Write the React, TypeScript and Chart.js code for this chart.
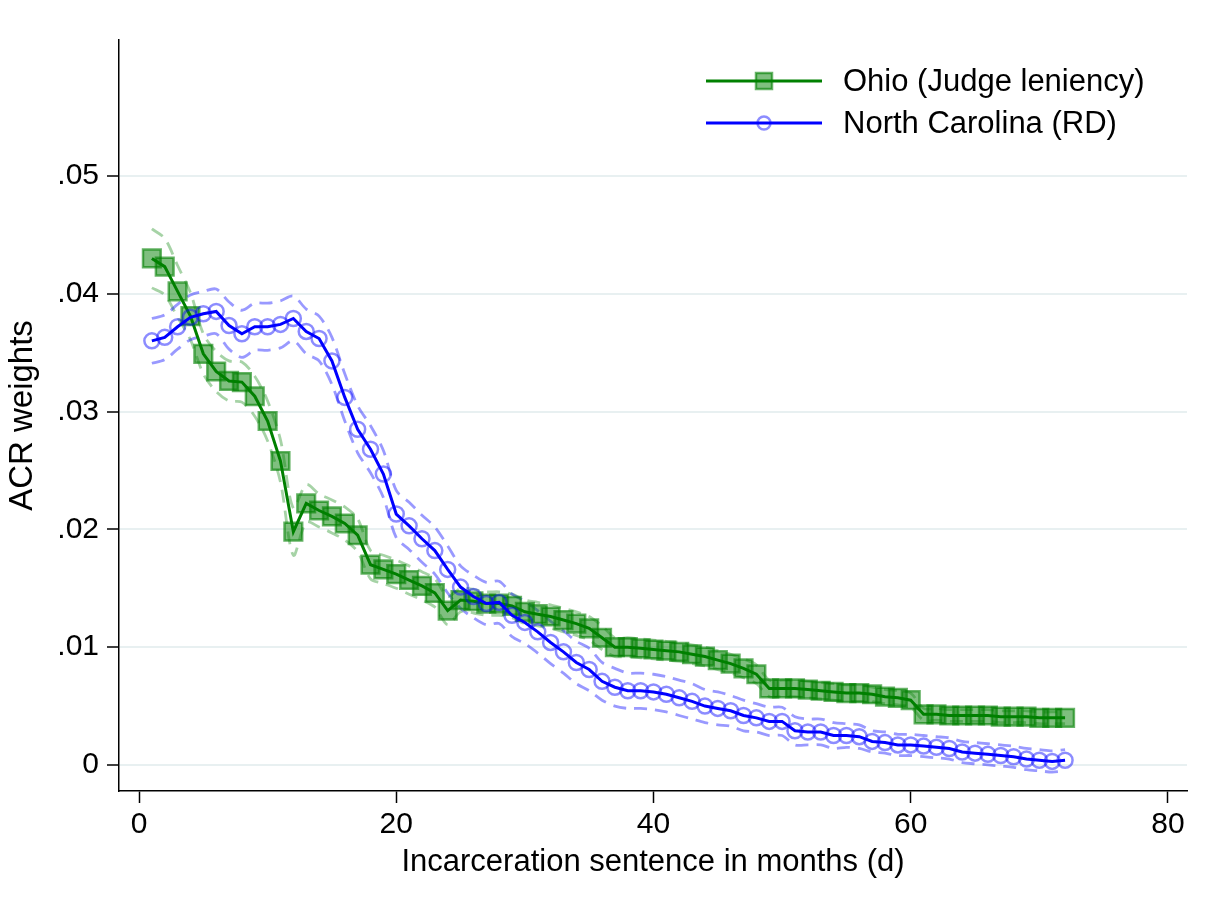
import React, { useEffect, useRef } from "react";
import { Chart, registerables } from "chart.js";

Chart.register(...registerables);

const months: number[] = Array.from({ length: 72 }, (_, i) => i + 1);

const ohio: number[] = [
  0.0430, 0.0423, 0.0402, 0.0381, 0.0349, 0.0334, 0.0326, 0.0325, 0.0313, 0.0292,
  0.0258, 0.0198, 0.0222, 0.0216, 0.0211, 0.0205, 0.0195, 0.0170, 0.0166, 0.0162,
  0.0157, 0.0152, 0.0146, 0.0131, 0.0140, 0.0139, 0.0137, 0.0137, 0.0135, 0.0130,
  0.0128, 0.0126, 0.0123, 0.0120, 0.0116, 0.0108, 0.0100, 0.0100, 0.0099, 0.0098,
  0.0097, 0.0096, 0.0094, 0.0092, 0.0089, 0.0086, 0.0082, 0.0077, 0.0065, 0.0065,
  0.0065, 0.0064, 0.0063, 0.0062, 0.0061, 0.0061, 0.0060, 0.0058, 0.0057, 0.0055,
  0.0043, 0.0043, 0.0042, 0.0042, 0.0042, 0.0042, 0.0041, 0.0041, 0.0041, 0.0040,
  0.0040, 0.0040,
];

const ohioCI: number[] = [
  0.0025, 0.0024, 0.0022, 0.0020, 0.0017, 0.0017, 0.0017, 0.0017, 0.0017, 0.0017,
  0.0018, 0.0020, 0.0016, 0.0014, 0.0014, 0.0014, 0.0014, 0.0012, 0.0012, 0.0012,
  0.0012, 0.0012, 0.0012, 0.0012, 0.0010, 0.0010, 0.0010, 0.0010, 0.0010, 0.0010,
  0.0010, 0.0010, 0.0010, 0.0010, 0.0010, 0.0010, 0.0008, 0.0008, 0.0008, 0.0008,
  0.0008, 0.0008, 0.0008, 0.0008, 0.0008, 0.0008, 0.0008, 0.0008, 0.0007, 0.0007,
  0.0007, 0.0007, 0.0007, 0.0007, 0.0007, 0.0007, 0.0006, 0.0006, 0.0006, 0.0006,
  0.0005, 0.0005, 0.0005, 0.0005, 0.0005, 0.0005, 0.0005, 0.0005, 0.0005, 0.0005,
  0.0005, 0.0005,
];

const northCarolina: number[] = [
  0.0360, 0.0363, 0.0372, 0.0380, 0.0383, 0.0385, 0.0373, 0.0366, 0.0372, 0.0372,
  0.0374, 0.0379, 0.0368, 0.0362, 0.0343, 0.0312, 0.0285, 0.0268, 0.0247, 0.0213,
  0.0203, 0.0192, 0.0182, 0.0166, 0.0151, 0.0143, 0.0137, 0.0138, 0.0127, 0.0121,
  0.0113, 0.0104, 0.0096, 0.0087, 0.0081, 0.0071, 0.0066, 0.0063, 0.0063, 0.0062,
  0.0060, 0.0057, 0.0054, 0.0050, 0.0048, 0.0046, 0.0042, 0.0040, 0.0037, 0.0037,
  0.0029, 0.0028, 0.0028, 0.0025, 0.0025, 0.0024, 0.0020, 0.0019, 0.0017, 0.0017,
  0.0016, 0.0015, 0.0014, 0.0011, 0.0010, 0.0009, 0.0008, 0.0007, 0.0005, 0.0004,
  0.0003, 0.0004,
];

const northCarolinaCI: number[] = [
  0.0019, 0.0019, 0.0019, 0.0019, 0.0019, 0.0019, 0.0020, 0.0020, 0.0020, 0.0020,
  0.0020, 0.0019, 0.0019, 0.0019, 0.0020, 0.0020, 0.0020, 0.0020, 0.0020, 0.0020,
  0.0020, 0.0020, 0.0020, 0.0020, 0.0018, 0.0018, 0.0018, 0.0018, 0.0018, 0.0018,
  0.0018, 0.0018, 0.0018, 0.0018, 0.0018, 0.0016, 0.0016, 0.0015, 0.0015, 0.0015,
  0.0015, 0.0015, 0.0015, 0.0014, 0.0014, 0.0013, 0.0013, 0.0012, 0.0012, 0.0012,
  0.0012, 0.0011, 0.0011, 0.0011, 0.0010, 0.0010, 0.0009, 0.0009, 0.0009, 0.0009,
  0.0009, 0.0009, 0.0009, 0.0009, 0.0009, 0.0009, 0.0009, 0.0009, 0.0009, 0.0009,
  0.0009, 0.0009,
];

const xTicks: number[] = [0, 20, 40, 60, 80];
const yTicks: number[] = [0, 0.01, 0.02, 0.03, 0.04, 0.05];
const seriesLabels: string[] = ["Ohio (Judge leniency)", "North Carolina (RD)"];
const xTitle = "Incarceration sentence in months (d)";
const yTitle = "ACR weights";

const FONT = "'Liberation Sans', Arial, Helvetica, sans-serif";
const GREEN = "#008000";
const BLUE = "#0000ff";
const GREEN_FILL = "rgba(0,128,0,0.5)";
const GREEN_EDGE = "rgba(0,128,0,0.6)";
const BLUE_EDGE = "rgba(0,0,255,0.45)";
const GREEN_CI = "rgba(0,128,0,0.35)";
const BLUE_CI = "rgba(0,0,255,0.4)";

const pts = (vals: number[]) => months.map((m, i) => ({ x: m, y: vals[i] }));

const legendPlugin = {
  id: "stataLegend",
  afterDraw(chart: any) {
    const ctx = chart.ctx as CanvasRenderingContext2D;
    const rows = [
      { y: 81, color: GREEN, kind: "rect" },
      { y: 123, color: BLUE, kind: "circle" },
    ];
    const x0 = 706;
    const x1 = 822;
    const mx = (x0 + x1) / 2;
    ctx.save();
    rows.forEach((r, i) => {
      ctx.beginPath();
      ctx.strokeStyle = r.color;
      ctx.lineWidth = 3;
      ctx.moveTo(x0, r.y);
      ctx.lineTo(x1, r.y);
      ctx.stroke();
      if (r.kind === "rect") {
        ctx.fillStyle = GREEN_FILL;
        ctx.strokeStyle = GREEN_EDGE;
        ctx.lineWidth = 2.5;
        ctx.beginPath();
        ctx.rect(mx - 8, r.y - 8, 16, 16);
        ctx.fill();
        ctx.stroke();
      } else {
        ctx.strokeStyle = BLUE_EDGE;
        ctx.lineWidth = 2.5;
        ctx.beginPath();
        ctx.arc(mx, r.y, 6.5, 0, Math.PI * 2);
        ctx.stroke();
      }
      ctx.fillStyle = "#000";
      ctx.font = `31px ${FONT}`;
      ctx.textBaseline = "middle";
      ctx.textAlign = "left";
      ctx.fillText(seriesLabels[i], 843, r.y + 1);
    });
    ctx.restore();
  },
};

export default function App() {
  const ref = useRef<HTMLCanvasElement | null>(null);

  useEffect(() => {
    document.body.style.margin = "0";
    const canvas = ref.current;
    if (!canvas) return;

    const ohioLo = ohio.map((v, i) => v - ohioCI[i]);
    const ohioHi = ohio.map((v, i) => v + ohioCI[i]);
    const ncLo = northCarolina.map((v, i) => v - northCarolinaCI[i]);
    const ncHi = northCarolina.map((v, i) => v + northCarolinaCI[i]);

    const ciDs = (vals: number[], color: string, order: number) => ({
      label: "ci",
      data: pts(vals),
      borderColor: color,
      borderWidth: 2.8,
      borderDash: [13, 8],
      pointRadius: 0,
      fill: false,
      tension: 0.3,
      order,
    });

    const chart = new Chart(canvas, {
      type: "line",
      data: {
        datasets: [
          {
            label: seriesLabels[1],
            data: pts(northCarolina),
            borderColor: BLUE,
            borderWidth: 3,
            pointStyle: "circle",
            pointRadius: 7.5,
            pointBorderWidth: 2.5,
            pointBorderColor: BLUE_EDGE,
            pointBackgroundColor: "rgba(0,0,0,0)",
            fill: false,
            tension: 0,
            order: 1,
          },
          {
            label: seriesLabels[0],
            data: pts(ohio),
            borderColor: GREEN,
            borderWidth: 3,
            pointStyle: "rect",
            pointRadius: 12.5,
            pointBorderWidth: 2.5,
            pointBorderColor: GREEN_EDGE,
            pointBackgroundColor: GREEN_FILL,
            fill: false,
            tension: 0,
            order: 2,
          },
          ciDs(ncLo, BLUE_CI, 3),
          ciDs(ncHi, BLUE_CI, 3),
          ciDs(ohioLo, GREEN_CI, 4),
          ciDs(ohioHi, GREEN_CI, 4),
        ] as any,
      },
      options: {
        responsive: false,
        animation: false,
        devicePixelRatio: 1,
        layout: { padding: { top: 40, right: 33, left: 0, bottom: 0 } },
        plugins: {
          legend: { display: false },
          tooltip: { enabled: false },
        },
        scales: {
          x: {
            type: "linear",
            min: -1.555,
            max: 81.48,
            afterBuildTicks: (s: any) => {
              s.ticks = xTicks.map((v) => ({ value: v }));
            },
            afterFit: (s: any) => {
              s.height = 122;
            },
            grid: {
              drawOnChartArea: false,
              drawTicks: true,
              tickLength: 12,
              tickColor: "#000",
              tickWidth: 1.5,
            },
            border: { display: true, color: "#000", width: 1.5 },
            ticks: {
              color: "#000",
              font: { family: FONT, size: 30 },
              padding: 4,
              maxRotation: 0,
              callback: (v: any) => String(v),
            },
            title: {
              display: true,
              text: xTitle,
              color: "#000",
              font: { family: FONT, size: 31 },
              padding: { top: 0, bottom: 32 },
            },
          },
          y: {
            type: "linear",
            min: -0.00221,
            max: 0.06154,
            afterBuildTicks: (s: any) => {
              s.ticks = yTicks.map((v) => ({ value: v }));
            },
            afterFit: (s: any) => {
              s.width = 119;
            },
            grid: {
              color: "#e8f0f1",
              lineWidth: 2,
              drawTicks: true,
              tickLength: 12,
              tickColor: "#000",
              tickWidth: 1.5,
            },
            border: { display: true, color: "#000", width: 1.5 },
            ticks: {
              color: "#000",
              font: { family: FONT, size: 30 },
              padding: 8,
              callback: (v: any) => {
                const n = Number(v);
                if (Math.abs(n) < 1e-9) return "0";
                return n.toFixed(2).replace(/^0/, "");
              },
            },
            title: {
              display: true,
              text: yTitle,
              color: "#000",
              font: { family: FONT, size: 33 },
              padding: { top: 3, bottom: 0 },
            },
          },
        },
      } as any,
      plugins: [legendPlugin],
    });

    return () => {
      chart.destroy();
    };
  }, []);

  return (
    <div style={{ position: "fixed", left: 0, top: 0, width: 1220, height: 913, background: "#fff" }}>
      <canvas ref={ref} width={1220} height={913} style={{ width: 1220, height: 913 }} />
    </div>
  );
}
